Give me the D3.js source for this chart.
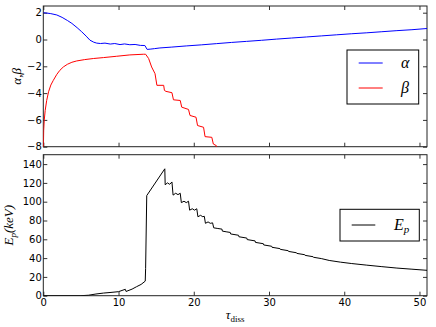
<!DOCTYPE html>
<html>
<head>
<meta charset="utf-8">
<script src="https://cdn.jsdelivr.net/npm/d3@7"></script>
<style>
  body { margin: 0; background: #fff; }
  text { font-family: "DejaVu Sans", sans-serif; }
  .math { font-family: "Liberation Serif", "DejaVu Serif", serif; font-style: italic; }
</style>
</head>
<body>
<svg id="chart" width="436" height="327"></svg>
<script>
// alpha index vs tau_diss
const alphaData = [
  [0, 2.0], [0.5, 1.97], [1, 1.93], [1.8, 1.83], [2.5, 1.65], [3.2, 1.42], [3.8, 1.2],
  [4.5, 0.88], [5.1, 0.58], [5.7, 0.25], [6.2, -0.05], [6.7, -0.2], [7.1, -0.27],
  [7.6, -0.3], [8.2, -0.27], [8.9, -0.34], [9.5, -0.3], [10.2, -0.38], [10.8, -0.33],
  [11.5, -0.39], [12.2, -0.37], [12.9, -0.44], [13.5, -0.45], [13.8, -0.74], [14.2, -0.72],
  [14.8, -0.68], [15.5, -0.63], [17, -0.57], [19, -0.48], [21, -0.4], [23, -0.31],
  [25, -0.22], [27, -0.14], [29, -0.06], [31, 0.03], [33, 0.11], [35, 0.19], [37, 0.27],
  [39, 0.35], [41, 0.43], [43, 0.5], [45, 0.58], [47, 0.66], [49, 0.73], [51, 0.82]
];

// beta index vs tau_diss
const betaData = [
  [0, -8.5], [0.05, -6.8], [0.13, -6.0], [0.25, -5.3], [0.45, -4.55], [0.7, -3.9],
  [1.0, -3.4], [1.33, -3.05], [1.8, -2.6], [2.2, -2.3], [2.66, -2.05], [3.2, -1.85],
  [3.8, -1.7], [4.44, -1.6], [5.5, -1.5], [6.65, -1.42], [8, -1.35], [9.76, -1.25],
  [11.5, -1.15], [13.3, -1.1], [13.6, -1.1], [14.0, -1.42], [14.4, -2.05], [14.85, -2.55],
  [15.1, -3.42], [16.0, -3.42], [16.1, -3.8], [16.3, -3.87], [17.1, -3.97], [17.3, -4.5],
  [18.2, -4.55], [18.4, -5.05], [19.3, -5.22], [19.5, -5.67], [20.3, -5.8], [20.5, -6.42],
  [21.3, -6.55], [21.5, -7.25], [22.4, -7.3], [22.6, -7.8], [23.0, -7.92], [23.1, -8.5]
];

// peak energy (keV) vs tau_diss
const epData = [
  [0, 0], [5, 0], [6, 0.5], [7, 1.8], [8, 2.8], [9, 3.5], [10, 4.3], [10.9, 6.8],
  [11.0, 4.5], [11.8, 7], [12.4, 9.6], [13, 12], [13.55, 15.5], [13.6, 29], [13.75, 106.5],
  [16.15, 135], [16.2, 118], [16.5, 120], [16.8, 118.5], [17.1, 121], [17.25, 107],
  [17.6, 109], [17.9, 107.5], [18.2, 109], [18.35, 99], [18.7, 100.5], [19.0, 99],
  [19.3, 100.5], [19.45, 91], [19.8, 92.5], [20.1, 91], [20.4, 92.5], [20.55, 84],
  [20.9, 85.5], [21.2, 84], [21.4, 84.5], [21.55, 77], [21.9, 78.5], [22.2, 77], [22.5, 77.5],
  [22.65, 72.2], [23.2, 71.5], [23.75, 70.8], [23.8, 68.7], [24.3, 68], [24.85, 67.3],
  [24.9, 65.7], [25.95, 64.3],
  [26.0, 62.7], [27.05, 61.3], [27.1, 59.7], [28.15, 58.3], [28.2, 56.7], [29.25, 55.3],
  [29.3, 54.0], [30.35, 52.6], [30.4, 51.5], [31.45, 50.1], [31.5, 49.3], [32.55, 47.9],
  [32.6, 47.1], [33.65, 45.7], [33.7, 45.0], [34.75, 43.6], [34.8, 42.9], [35.85, 41.5],
  [35.9, 40.9], [36.95, 39.5], [38, 37.5], [39.5, 35.7], [41, 34.2], [43, 32.5],
  [45, 30.9], [47, 29.4], [49, 28.2], [51, 27]
];

const xTicks = [0, 10, 20, 30, 40, 50];
const abTicks = [2, 0, -2, -4, -6, -8];
const epTicks = [0, 20, 40, 60, 80, 100, 120, 140];

const svg = d3.select("#chart");
const left = 43.3, right = 427;
const top1 = 6, bot1 = 146.7;
const top2 = 154.7, bot2 = 295.7;

const x = d3.scaleLinear().domain([0, 51]).range([left, right]);
const y1 = d3.scaleLinear().domain([-8, 2.5]).range([bot1, top1]);
const y2 = d3.scaleLinear().domain([0, 150]).range([bot2, top2]);

function panel(id, y, yTicks, showX) {
  svg.append("clipPath").attr("id", id)
    .append("rect")
      .attr("x", left).attr("y", y.range()[1])
      .attr("width", right - left).attr("height", y.range()[0] - y.range()[1]);

  const g = svg.append("g").attr("font-size", 12);

  g.append("g").attr("transform", `translate(0,${y.range()[0]})`)
    .call(d3.axisBottom(x).tickValues(xTicks).tickSize(-4).tickPadding(3.5))
    .call(s => { if (!showX) s.selectAll("text").remove(); });
  g.append("g").attr("transform", `translate(0,${y.range()[1]})`)
    .call(d3.axisTop(x).tickValues(xTicks).tickSize(-4).tickFormat(""));
  g.append("g").attr("transform", `translate(${left},0)`)
    .call(d3.axisLeft(y).tickValues(yTicks).tickSize(-4).tickPadding(1.5)
      .tickFormat(d => d < 0 ? "\u2212" + Math.abs(d) : d));
  g.append("g").attr("transform", `translate(${right},0)`)
    .call(d3.axisRight(y).tickValues(yTicks).tickSize(-4).tickFormat(""));

  g.selectAll(".domain").remove();
  g.selectAll(".tick line").attr("stroke", "#333");
  g.selectAll(".tick text").attr("fill", "#000").attr("font-family", "DejaVu Sans");

  svg.append("rect")
    .attr("x", left).attr("y", y.range()[1])
    .attr("width", right - left).attr("height", y.range()[0] - y.range()[1])
    .attr("fill", "none").attr("stroke", "#222").attr("stroke-width", 1);
}

panel("clip1", y1, abTicks, false);
panel("clip2", y2, epTicks, true);

const line1 = d3.line().x(d => x(d[0])).y(d => y1(d[1]));
const line2 = d3.line().x(d => x(d[0])).y(d => y2(d[1]));

svg.append("path").datum(alphaData).attr("clip-path", "url(#clip1)")
  .attr("d", line1).attr("fill", "none").attr("stroke", "#0000ff").attr("stroke-width", 1);
svg.append("path").datum(betaData).attr("clip-path", "url(#clip1)")
  .attr("d", line1).attr("fill", "none").attr("stroke", "#ff0000").attr("stroke-width", 1);
svg.append("path").datum(epData).attr("clip-path", "url(#clip2)")
  .attr("d", line2).attr("fill", "none").attr("stroke", "#000").attr("stroke-width", 1);

// axis labels
svg.append("text").attr("class", "math")
  .attr("transform", `translate(21,${(top1 + bot1) / 2}) rotate(-90)`)
  .attr("text-anchor", "middle").attr("font-size", 13)
  .text("\u03b1,\u03b2");

const ep = svg.append("text").attr("class", "math")
  .attr("transform", `translate(13,${(top2 + bot2) / 2}) rotate(-90)`)
  .attr("text-anchor", "middle").attr("font-size", 13);
ep.append("tspan").text("E");
ep.append("tspan").attr("font-size", 9).attr("dy", 3).text("p");
ep.append("tspan").attr("dy", -3).text("(keV)");

const xl = svg.append("text").attr("class", "math")
  .attr("x", (left + right) / 2).attr("y", 319)
  .attr("text-anchor", "middle").attr("font-size", 13);
xl.append("tspan").text("\u03c4");
xl.append("tspan").attr("font-size", 9).attr("dy", 3).attr("font-style", "normal").text("diss");

// legends
const leg1 = svg.append("g");
leg1.append("rect").attr("x", 347).attr("y", 50).attr("width", 71.7).attr("height", 54)
  .attr("fill", "#fff").attr("stroke", "#000").attr("stroke-width", 1);
[["\u03b1", "#0000ff", 63], ["\u03b2", "#ff0000", 88]].forEach(([t, c, yy]) => {
  leg1.append("line").attr("x1", 358.7).attr("x2", 382.7).attr("y1", yy).attr("y2", yy)
    .attr("stroke", c).attr("stroke-width", 1);
  leg1.append("text").attr("class", "math").attr("x", 401).attr("y", yy + 5)
    .attr("font-size", 16).text(t);
});

const leg2 = svg.append("g");
leg2.append("rect").attr("x", 340).attr("y", 209.3).attr("width", 79.3).attr("height", 31.7)
  .attr("fill", "#fff").attr("stroke", "#000").attr("stroke-width", 1);
leg2.append("line").attr("x1", 351.7).attr("x2", 375.3).attr("y1", 225).attr("y2", 225)
  .attr("stroke", "#000").attr("stroke-width", 1);
const lt = leg2.append("text").attr("class", "math").attr("x", 394).attr("y", 230).attr("font-size", 16);
lt.append("tspan").text("E");
lt.append("tspan").attr("font-size", 11).attr("dy", 3).text("p");
</script>
</body>
</html>
